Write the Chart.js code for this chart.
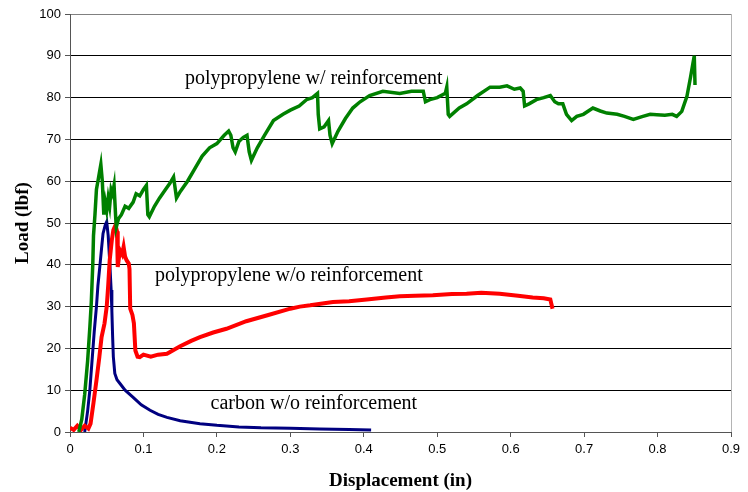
<!DOCTYPE html>
<html>
<head>
<meta charset="utf-8">
<script src="https://cdn.jsdelivr.net/npm/chart.js@4.4.1/dist/chart.umd.min.js"></script>
<style>
    body { margin: 0; background: #fff; }
    canvas { display: block; }
</style>
</head>
<body>
<canvas id="load-chart" width="748" height="492"></canvas>
<script>
// polypropylene w/ reinforcement
const greenX = [0.012, 0.016, 0.020, 0.024, 0.027, 0.029, 0.031, 0.032, 0.034, 0.036, 0.038, 0.040, 0.042, 0.044, 0.046, 0.048,
    0.050, 0.052, 0.054, 0.056, 0.058, 0.060, 0.062, 0.063, 0.066, 0.070, 0.075, 0.080, 0.086, 0.090, 0.095, 0.100, 0.104,
    0.106, 0.108, 0.115, 0.122, 0.130, 0.136, 0.141, 0.145, 0.150, 0.160, 0.170, 0.180, 0.190, 0.200, 0.210, 0.216, 0.219,
    0.222, 0.225, 0.230, 0.236, 0.241, 0.244, 0.247, 0.255, 0.265, 0.277, 0.290, 0.300, 0.312, 0.322, 0.330, 0.337, 0.338,
    0.340, 0.346, 0.352, 0.354, 0.357, 0.365, 0.375, 0.385, 0.395, 0.408, 0.426, 0.449, 0.465, 0.481, 0.484, 0.490, 0.500,
    0.511, 0.513, 0.515, 0.517, 0.530, 0.540, 0.555, 0.572, 0.585, 0.595, 0.605, 0.613, 0.617, 0.619, 0.625, 0.635, 0.645,
    0.654, 0.660, 0.665, 0.671, 0.676, 0.683, 0.690, 0.699, 0.712, 0.722, 0.731, 0.745, 0.755, 0.767, 0.780, 0.790, 0.799,
    0.810, 0.820, 0.826, 0.833, 0.840, 0.845, 0.848, 0.850, 0.851];
const greenY = [0, 3, 9, 17, 25, 31, 40, 47, 52, 58, 60, 62, 64, 60, 52, 55,
    53, 56, 54, 58, 57, 59, 52, 49, 51, 52, 54, 53.5, 55, 57, 56.5, 58, 59,
    52, 51.5, 54, 56, 58, 59.5, 61, 56, 57.5, 60, 63, 66, 68, 69, 71, 72, 71,
    68, 67, 69.5, 70.5, 71, 67, 65, 68, 71, 74.5, 76, 77, 78, 79.5, 80, 81, 76,
    72.5, 73, 74.5, 71, 69, 72, 75, 77.5, 79, 80.5, 81.5, 81, 81.5, 81.5, 79, 79.5, 80,
    81, 82.5, 76, 75.5, 77.5, 78.5, 80.5, 82.5, 82.5, 82.8, 82, 82.3, 81.5, 78, 78.5, 79.5, 80,
    80.5, 79, 78.5, 78.5, 76, 74.5, 75.5, 76, 77.5, 76.8, 76.3, 76, 75.5, 74.8, 75.5, 76, 75.9,
    75.8, 76, 75.5, 76.7, 80.3, 85, 88, 90, 83];

// polypropylene w/o reinforcement
const redX = [0.000, 0.005, 0.010, 0.015, 0.020, 0.025, 0.028, 0.032, 0.036, 0.040, 0.043, 0.047, 0.050, 0.052, 0.054,
    0.057, 0.059, 0.062, 0.064, 0.065, 0.068, 0.071, 0.073, 0.075, 0.077, 0.080, 0.081, 0.082, 0.085, 0.087, 0.089, 0.092,
    0.095, 0.100, 0.110, 0.120, 0.132, 0.150, 0.165, 0.177, 0.195, 0.213, 0.240, 0.270, 0.300, 0.313, 0.327, 0.358, 0.380,
    0.404, 0.430, 0.449, 0.470, 0.494, 0.520, 0.540, 0.560, 0.585, 0.610, 0.630, 0.645, 0.654, 0.657];
const redY = [1, 0.5, 1.5, 0.5, 1.5, 0.8, 2, 7, 12.3, 18, 22.7, 26, 30, 35, 41,
    46, 48.3, 49.5, 48, 39.5, 43.5, 42.5, 44.3, 42, 41.1, 40.3, 39, 29.5, 28, 26, 19.5, 18,
    17.9, 18.5, 18, 18.5, 18.7, 20.5, 21.8, 22.7, 23.8, 24.7, 26.5, 28, 29.5, 30, 30.3, 31.1, 31.3,
    31.7, 32.2, 32.5, 32.6, 32.7, 33, 33.1, 33.3, 33.1, 32.6, 32.2, 32, 31.7, 29.5];

// carbon w/o reinforcement
const blueX = [0.020, 0.024, 0.027, 0.030, 0.033, 0.036, 0.038, 0.041, 0.043, 0.045, 0.048, 0.050, 0.052, 0.054, 0.056,
    0.057, 0.058, 0.059, 0.061, 0.064, 0.068, 0.075, 0.086, 0.097, 0.109, 0.120, 0.132, 0.150, 0.177, 0.200, 0.230, 0.260,
    0.300, 0.340, 0.380, 0.410];
const blueY = [0, 5, 10, 17, 24, 30, 35, 40.3, 44, 47.5, 49.5, 50.3, 47, 41, 34,
    29, 23, 18, 14, 12.5, 11.6, 10, 8.3, 6.5, 5.2, 4.2, 3.5, 2.7, 2, 1.6, 1.2, 1,
    0.9, 0.7, 0.6, 0.5];

const xTicks = [0, 0.1, 0.2, 0.3, 0.4, 0.5, 0.6, 0.7, 0.8, 0.9];
const yTicks = [0, 10, 20, 30, 40, 50, 60, 70, 80, 90, 100];

// label text with its anchor in data units
const labelText = ["polypropylene w/ reinforcement", "polypropylene w/o reinforcement", "carbon w/o reinforcement"];
const labelX = [0.332, 0.298, 0.332];
const labelY = [84.5, 37.5, 6.8];

function toPoints(xs, ys) {
    return xs.map((x, i) => ({ x, y: ys[i] }));
}

const curveLabels = {
    id: "curveLabels",
    afterDatasetsDraw(chart) {
        const { ctx, scales } = chart;
        ctx.save();
        ctx.font = "20px 'Liberation Serif', 'Times New Roman', serif";
        ctx.fillStyle = "#000";
        ctx.textAlign = "center";
        ctx.textBaseline = "middle";
        labelText.forEach((t, i) => {
            ctx.fillText(t, scales.x.getPixelForValue(labelX[i]), scales.y.getPixelForValue(labelY[i]));
        });
        ctx.restore();
    },
};

const tickFont = { family: "'Liberation Sans', Arial, sans-serif", size: 13 };
const titleFont = { family: "'Liberation Serif', 'Times New Roman', serif", size: 19, weight: "bold" };

new Chart(document.getElementById("load-chart"), {
    type: "line",
    data: {
        datasets: [
            { label: "polypropylene w/ reinforcement", data: toPoints(greenX, greenY), borderColor: "#008000", borderWidth: 3.5 },
            { label: "polypropylene w/o reinforcement", data: toPoints(redX, redY), borderColor: "#ff0000", borderWidth: 4 },
            { label: "carbon w/o reinforcement", data: toPoints(blueX, blueY), borderColor: "#000080", borderWidth: 3 },
        ],
    },
    options: {
        responsive: false,
        animation: false,
        parsing: false,
        layout: { padding: { top: 14, right: 17, left: 0, bottom: 0 } },
        elements: { point: { radius: 0 }, line: { tension: 0, fill: false } },
        plugins: { legend: { display: false }, tooltip: { enabled: false } },
        scales: {
            x: {
                type: "linear",
                min: 0,
                max: 0.9,
                afterBuildTicks: (s) => { s.ticks = xTicks.map(v => ({ value: v })); },
                afterFit: (s) => { s.height = 60; },
                ticks: { color: "#000", font: tickFont, padding: 5, maxRotation: 0, callback: (v) => String(v) },
                grid: {
                    color: (c) => (c.tick && c.tick.value === 0.9 ? "#b4b4b4" : "rgba(0,0,0,0)"),
                    tickColor: "#555",
                    tickLength: 5,
                },
                border: { color: "#555", width: 1 },
                title: { display: true, text: "Displacement (in)", color: "#000", font: titleFont, padding: 0 },
            },
            y: {
                min: 0,
                max: 100,
                afterBuildTicks: (s) => { s.ticks = yTicks.map(v => ({ value: v })); },
                afterFit: (s) => { s.width = 70; },
                ticks: { color: "#000", font: tickFont, padding: 4 },
                grid: {
                    color: (c) => (c.tick && (c.tick.value === 100 || c.tick.value === 0) ? "#808080" : "#000"),
                    tickColor: "#555",
                    tickLength: 5,
                },
                border: { color: "#555", width: 1 },
                title: { display: true, text: "Load (lbf)", color: "#000", font: titleFont, padding: { top: 12, bottom: 0 } },
            },
        },
    },
    plugins: [curveLabels],
});
</script>
</body>
</html>
